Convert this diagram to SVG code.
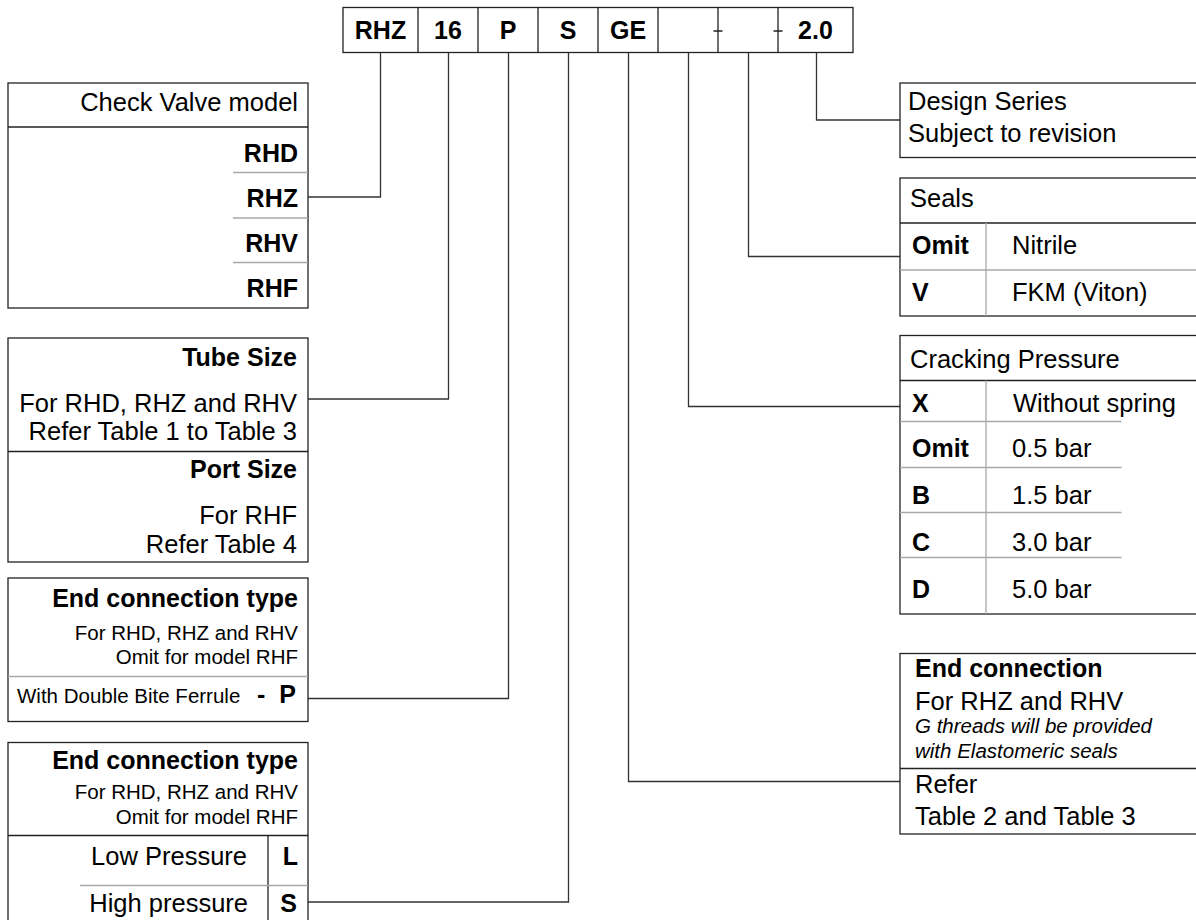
<svg xmlns="http://www.w3.org/2000/svg" width="1196" height="920" viewBox="0 0 1196 920">
<style>
text{font-family:"Liberation Sans",Arial,Helvetica,sans-serif;fill:#000}
.r{font-size:25.5px}
.b{font-size:25px;font-weight:bold}
.s{font-size:20.5px}
.i{font-size:20.5px;font-style:italic}
.e{text-anchor:end}
.m{text-anchor:middle}
.box{fill:#fff;stroke:#222;stroke-width:1.3}
.dk{stroke:#222;stroke-width:1.3;fill:none}
.gr{stroke:#a8a8a8;stroke-width:1.3;fill:none}
.cn{stroke:#333;stroke-width:1.3;fill:none}
</style>
<rect width="1196" height="920" fill="#fff"/>

<g id="connectors">
<polyline class="cn" points="380.5,52.5 380.5,197 308,197"/>
<polyline class="cn" points="448.5,52.5 448.5,399 308,399"/>
<polyline class="cn" points="508.5,52.5 508.5,698.5 308,698.5"/>
<polyline class="cn" points="568.5,52.5 568.5,902 308,902"/>
<polyline class="cn" points="628.5,52.5 628.5,781.5 900,781.5"/>
<polyline class="cn" points="688.5,52.5 688.5,406.5 900,406.5"/>
<polyline class="cn" points="748.5,52.5 748.5,256.5 900,256.5"/>
<polyline class="cn" points="816.5,52.5 816.5,120 900,120"/>
</g>

<g id="header">
<rect class="box" x="343" y="7.5" width="510" height="45"/>
<path class="dk" d="M418 7.5V52.5M478 7.5V52.5M538 7.5V52.5M598 7.5V52.5M658 7.5V52.5M718 7.5V52.5M778 7.5V52.5M713.5 31H722.5M773.5 31H782.5"/>
<text class="b m" x="380.5" y="38.5">RHZ</text>
<text class="b m" x="448" y="38.5">16</text>
<text class="b m" x="508" y="38.5">P</text>
<text class="b m" x="568" y="38.5">S</text>
<text class="b m" x="628" y="38.5">GE</text>
<text class="b m" x="815.5" y="38.5">2.0</text>
</g>

<g id="check-valve-model">
<rect class="box" x="8" y="83" width="300" height="225"/>
<path class="dk" d="M8 127H308"/>
<path class="gr" d="M233 172.5H308M233 218H308M233 262.5H308"/>
<text class="r e" x="298" y="111">Check Valve model</text>
<text class="b e" x="298" y="162">RHD</text>
<text class="b e" x="298" y="207">RHZ</text>
<text class="b e" x="298" y="252">RHV</text>
<text class="b e" x="298" y="297">RHF</text>
</g>

<g id="tube-size">
<rect class="box" x="8" y="338" width="300" height="224"/>
<path class="dk" d="M8 451.5H308"/>
<text class="b e" x="297" y="366">Tube Size</text>
<text class="r e" x="297" y="412">For RHD, RHZ and RHV</text>
<text class="r e" x="297" y="440">Refer Table 1 to Table 3</text>
<text class="b e" x="297" y="478">Port Size</text>
<text class="r e" x="297" y="524">For RHF</text>
<text class="r e" x="297" y="553">Refer Table 4</text>
</g>

<g id="end-connection-type-p">
<rect class="box" x="8" y="578" width="300" height="143.5"/>
<path class="gr" d="M8 676.5H308"/>
<text class="b e" x="298" y="607">End connection type</text>
<text class="s e" x="298" y="640">For RHD, RHZ and RHV</text>
<text class="s e" x="298" y="664">Omit for model RHF</text>
<text class="s" x="17" y="703">With Double Bite Ferrule</text>
<text class="b" x="257" y="703">-</text>
<text class="b e" x="296" y="703">P</text>
</g>

<g id="end-connection-type-s">
<rect class="box" x="8" y="742.5" width="300" height="200"/>
<path class="dk" d="M8 835.5H308M268 835.5V942"/>
<path class="gr" d="M80 885.5H308"/>
<text class="b e" x="298" y="769">End connection type</text>
<text class="s e" x="298" y="799">For RHD, RHZ and RHV</text>
<text class="s e" x="298" y="824">Omit for model RHF</text>
<text class="r e" x="247" y="865">Low Pressure</text>
<text class="b e" x="298" y="865">L</text>
<text class="r e" x="248" y="912">High pressure</text>
<text class="b e" x="297" y="912">S</text>
</g>

<g id="design-series">
<rect class="box" x="900" y="83" width="400" height="74.5"/>
<text class="r" x="908" y="110">Design Series</text>
<text class="r" x="908" y="142">Subject to revision</text>
</g>

<g id="seals">
<rect class="box" x="900" y="178" width="400" height="138"/>
<path class="dk" d="M900 223H1300"/>
<path class="gr" d="M900 270H1300M986 223V316"/>
<text class="r" x="910" y="207">Seals</text>
<text class="b" x="912" y="254">Omit</text>
<text class="r" x="1012" y="254">Nitrile</text>
<text class="b" x="912" y="300.5">V</text>
<text class="r" x="1012" y="300.5">FKM (Viton)</text>
</g>

<g id="cracking-pressure">
<rect class="box" x="900" y="335.5" width="400" height="278.5"/>
<path class="dk" d="M900 380.5H1300"/>
<path class="gr" d="M900 421.5H1121.5M900 467.5H1121.5M900 512.5H1121.5M900 557.5H1121.5M986 380.5V614"/>
<text class="r" x="910" y="368">Cracking Pressure</text>
<text class="b" x="912" y="411.5">X</text>
<text class="r" x="1013" y="411.5">Without spring</text>
<text class="b" x="912" y="457">Omit</text>
<text class="r" x="1012" y="457">0.5 bar</text>
<text class="b" x="912" y="504">B</text>
<text class="r" x="1012" y="504">1.5 bar</text>
<text class="b" x="912" y="551">C</text>
<text class="r" x="1012" y="551">3.0 bar</text>
<text class="b" x="912" y="597.5">D</text>
<text class="r" x="1012" y="597.5">5.0 bar</text>
</g>

<g id="end-connection">
<rect class="box" x="900" y="653.5" width="400" height="180.5"/>
<path class="dk" d="M900 768.5H1300"/>
<text class="b" x="915" y="677">End connection</text>
<text class="r" x="915" y="710">For RHZ and RHV</text>
<text class="i" x="915" y="733">G threads will be provided</text>
<text class="i" x="915" y="758">with Elastomeric seals</text>
<text class="r" x="915" y="793">Refer</text>
<text class="r" x="915" y="825">Table 2 and Table 3</text>
</g>
</svg>
